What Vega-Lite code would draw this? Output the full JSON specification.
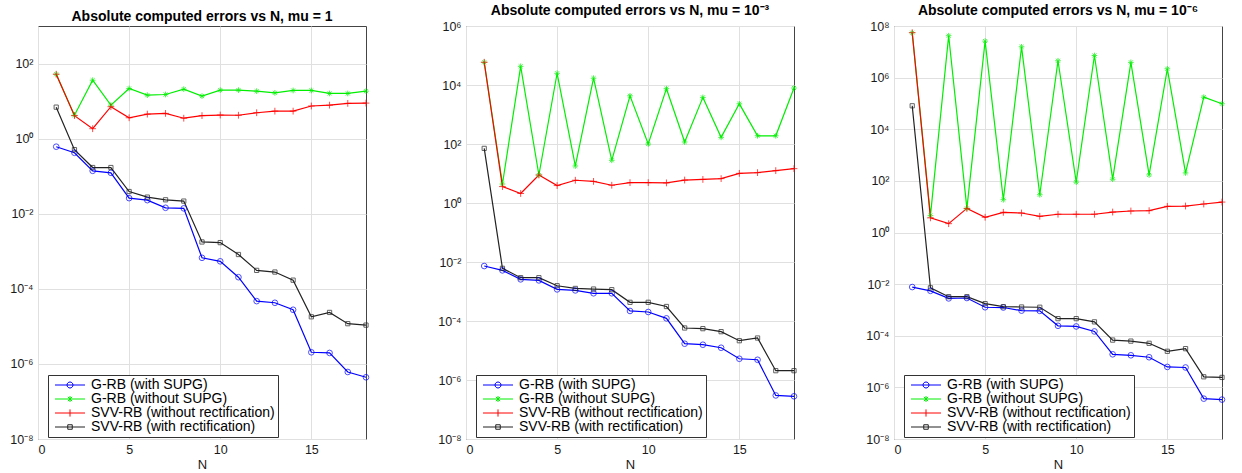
{
  "$schema": "https://vega.github.io/schema/vega-lite/v6.json",
  "padding": {"left": 0, "top": 3, "right": 0, "bottom": 0},
  "background": "white",
  "spacing": 56,
  "config": {
    "font": "Liberation Sans",
    "view": {"stroke": "#444444", "strokeWidth": 1},
    "axis": {
      "labelFont": "Liberation Sans", "labelFontSize": 12.5, "labelColor": "#1a1a1a",
      "titleFont": "Liberation Sans", "titleFontSize": 13, "titleFontWeight": "normal", "titleColor": "#1a1a1a",
      "gridColor": "#e0e0e0", "gridOpacity": 1, "domain": false, "ticks": false, "labelPadding": 4
    },
    "axisY": {"minExtent": 37, "maxExtent": 37, "labelPadding": 5},
    "title": {"font": "Liberation Sans", "fontSize": 14, "fontWeight": "bold", "color": "#000000", "offset": 2},
    "point": {"filled": false, "size": 32, "strokeWidth": 1},
    "legend": {
      "orient": "none", "legendX": 10, "legendY": 349, "strokeColor": "#333333", "fillColor": "white",
      "padding": 3, "labelFont": "Liberation Sans", "labelFontSize": 14, "labelColor": "#000000", "labelLimit": 400,
      "rowPadding": -1.5, "symbolSize": 36, "symbolStrokeWidth": 1, "labelOffset": 26
    }
  },
  "data": {"values": [
    {"p":1,"N":1,"a":0.61,"b":52,"c":52,"d":6.9},
    {"p":1,"N":2,"a":0.42,"b":4.2,"c":4.1,"d":0.51},
    {"p":1,"N":3,"a":0.139,"b":36,"c":1.84,"d":0.17},
    {"p":1,"N":4,"a":0.123,"b":7.8,"c":7.1,"d":0.17},
    {"p":1,"N":5,"a":0.026,"b":21.7,"c":3.6,"d":0.039},
    {"p":1,"N":6,"a":0.023,"b":14.4,"c":4.5,"d":0.0277},
    {"p":1,"N":7,"a":0.0144,"b":15,"c":4.7,"d":0.0235},
    {"p":1,"N":8,"a":0.0139,"b":20.8,"c":3.5,"d":0.0217},
    {"p":1,"N":9,"a":0.00067,"b":13.6,"c":4.1,"d":0.00177},
    {"p":1,"N":10,"a":0.00054,"b":19.6,"c":4.25,"d":0.0017},
    {"p":1,"N":11,"a":0.000204,"b":19.6,"c":4.2,"d":0.00082},
    {"p":1,"N":12,"a":0.000047,"b":18.4,"c":4.9,"d":0.00031},
    {"p":1,"N":13,"a":0.0000425,"b":16.6,"c":5.4,"d":0.00028},
    {"p":1,"N":14,"a":0.0000277,"b":19.2,"c":5.4,"d":0.00017},
    {"p":1,"N":15,"a":0.00000204,"b":19.2,"c":7.4,"d":0.000018},
    {"p":1,"N":16,"a":0.00000196,"b":16,"c":7.8,"d":0.0000235},
    {"p":1,"N":17,"a":0.00000061,"b":16,"c":8.7,"d":0.0000118},
    {"p":1,"N":18,"a":0.00000044,"b":18.4,"c":8.85,"d":0.0000108},
    {"p":2,"N":1,"a":0.0073,"b":59000,"c":59000,"d":71},
    {"p":2,"N":2,"a":0.0052,"b":4.4,"c":3.6,"d":0.0061},
    {"p":2,"N":3,"a":0.00258,"b":43000,"c":2.1,"d":0.00294},
    {"p":2,"N":4,"a":0.00238,"b":8.9,"c":8.9,"d":0.00294},
    {"p":2,"N":5,"a":0.00118,"b":25000,"c":3.9,"d":0.00157},
    {"p":2,"N":6,"a":0.00109,"b":18,"c":5.9,"d":0.00127},
    {"p":2,"N":7,"a":0.00087,"b":17000,"c":5.4,"d":0.00121},
    {"p":2,"N":8,"a":0.00087,"b":28,"c":4.0,"d":0.00115},
    {"p":2,"N":9,"a":0.000219,"b":4300,"c":4.9,"d":0.00043},
    {"p":2,"N":10,"a":0.000202,"b":100,"c":4.9,"d":0.00043},
    {"p":2,"N":11,"a":0.000123,"b":7500,"c":4.8,"d":0.00031},
    {"p":2,"N":12,"a":0.000017,"b":117,"c":6.0,"d":0.000058},
    {"p":2,"N":13,"a":0.0000157,"b":3800,"c":6.3,"d":0.000055},
    {"p":2,"N":14,"a":0.0000124,"b":168,"c":6.7,"d":0.0000435},
    {"p":2,"N":15,"a":0.00000525,"b":2300,"c":10.1,"d":0.0000215},
    {"p":2,"N":16,"a":0.00000485,"b":190,"c":10.7,"d":0.0000265},
    {"p":2,"N":17,"a":0.0000003,"b":190,"c":12.5,"d":0.00000207},
    {"p":2,"N":18,"a":0.00000028,"b":7900,"c":14.6,"d":0.00000207},
    {"p":3,"N":1,"a":0.0077,"b":55000000,"c":55000000,"d":81000},
    {"p":3,"N":2,"a":0.0055,"b":4.5,"c":3.7,"d":0.0072},
    {"p":3,"N":3,"a":0.0028,"b":42000000,"c":2.2,"d":0.00326},
    {"p":3,"N":4,"a":0.0029,"b":8.6,"c":8.6,"d":0.00326},
    {"p":3,"N":5,"a":0.00127,"b":26000000,"c":3.9,"d":0.00175},
    {"p":3,"N":6,"a":0.00124,"b":18.6,"c":6.05,"d":0.00134},
    {"p":3,"N":7,"a":0.00094,"b":15600000,"c":5.7,"d":0.0013},
    {"p":3,"N":8,"a":0.00092,"b":29,"c":4.25,"d":0.00127},
    {"p":3,"N":9,"a":0.000243,"b":4500000,"c":5.1,"d":0.00046},
    {"p":3,"N":10,"a":0.000229,"b":89,"c":5.1,"d":0.00046},
    {"p":3,"N":11,"a":0.000147,"b":7200000,"c":5.1,"d":0.000345},
    {"p":3,"N":12,"a":0.0000191,"b":116,"c":6.2,"d":0.000068},
    {"p":3,"N":13,"a":0.0000175,"b":3900000,"c":6.8,"d":0.000062},
    {"p":3,"N":14,"a":0.0000147,"b":170,"c":7.0,"d":0.000051},
    {"p":3,"N":15,"a":0.0000062,"b":2200000,"c":10.3,"d":0.000025},
    {"p":3,"N":16,"a":0.0000059,"b":203,"c":10.6,"d":0.0000316},
    {"p":3,"N":17,"a":0.000000366,"b":175000,"c":12.7,"d":0.00000257},
    {"p":3,"N":18,"a":0.000000336,"b":97000,"c":15.1,"d":0.00000243}
  ]},
  "hconcat": [
    {
      "width": 328, "height": 413,
      "title": "Absolute computed errors vs N, mu = 1",
      "transform": [{"filter": "datum.p == 1"}, {"fold": ["a", "b", "c", "d"], "as": ["s", "v"]}],
      "encoding": {
        "x": {"field": "N", "type": "quantitative", "scale": {"domain": [0, 18], "nice": false}, "axis": {"values": [0, 5, 10, 15], "title": "N", "titlePadding": 3}},
        "y": {"field": "v", "type": "quantitative", "scale": {"type": "log", "domain": [1e-8, 1e3], "nice": false},
          "axis": {"title": null, "values": [1e-8, 1e-6, 1e-4, 1e-2, 1, 100],
            "labelExpr": "'10' + replace(replace(replace(replace(replace(replace(replace(replace(replace(replace('' + round(log(datum.value)/LN10), '-', '⁻'), '0', '⁰'), '1', '¹'), '2', '²'), '3', '³'), '4', '⁴'), '5', '⁵'), '6', '⁶'), '7', '⁷'), '8', '⁸')"}},
        "color": {"field": "s", "type": "nominal",
          "scale": {"domain": ["a", "b", "c", "d"], "range": ["#0000ff", "#00ee00", "#ff0000", "#222222"]},
          "legend": {"title": null,
            "labelExpr": "datum.value == 'a' ? 'G-RB (with SUPG)' : datum.value == 'b' ? 'G-RB (without SUPG)' : datum.value == 'c' ? 'SVV-RB (without rectification)' : 'SVV-RB (with rectification)'",
            "encode": {"symbols": {"update": {"fill": {"value": "transparent"}, "strokeWidth": {"value": 1},
              "shape": {"signal": "datum.value == 'a' ? 'M-1,0L9,0M3,0A1,1,0,1,0,5,0A1,1,0,1,0,3,0' : datum.value == 'b' ? 'M-1,0L9,0M4,-1L4,1M3.3,-0.7L4.7,0.7M3.3,0.7L4.7,-0.7' : datum.value == 'c' ? 'M-1,0L9,0M4,-1.2L4,1.2' : 'M-1,0L9,0M3.25,-0.75L4.75,-0.75L4.75,0.75L3.25,0.75Z'"}}}}}}
      },
      "layer": [
        {"mark": {"type": "line", "strokeWidth": 1.2}},
        {"transform": [{"filter": "datum.s == 'a'"}], "mark": {"type": "point", "shape": "circle"}},
        {"transform": [{"filter": "datum.s == 'b'"}], "mark": {"type": "point", "shape": "M-1,0L1,0M0,-1L0,1M-0.7,-0.7L0.7,0.7M-0.7,0.7L0.7,-0.7"}},
        {"transform": [{"filter": "datum.s == 'c'"}], "mark": {"type": "point", "shape": "M-1.2,0L1.2,0M0,-1.2L0,1.2"}},
        {"transform": [{"filter": "datum.s == 'd'"}], "mark": {"type": "point", "shape": "M-0.75,-0.75L0.75,-0.75L0.75,0.75L-0.75,0.75Z"}}
      ]
    },
    {
      "width": 328, "height": 413,
      "title": "Absolute computed errors vs N,  mu = 10⁻³",
      "transform": [{"filter": "datum.p == 2"}, {"fold": ["a", "b", "c", "d"], "as": ["s", "v"]}],
      "encoding": {
        "x": {"field": "N", "type": "quantitative", "scale": {"domain": [0, 18], "nice": false}, "axis": {"values": [0, 5, 10, 15], "title": "N", "titlePadding": 3}},
        "y": {"field": "v", "type": "quantitative", "scale": {"type": "log", "domain": [1e-8, 1e6], "nice": false},
          "axis": {"title": null, "values": [1e-8, 1e-6, 1e-4, 1e-2, 1, 100, 1e4, 1e6],
            "labelExpr": "'10' + replace(replace(replace(replace(replace(replace(replace(replace(replace(replace('' + round(log(datum.value)/LN10), '-', '⁻'), '0', '⁰'), '1', '¹'), '2', '²'), '3', '³'), '4', '⁴'), '5', '⁵'), '6', '⁶'), '7', '⁷'), '8', '⁸')"}},
        "color": {"field": "s", "type": "nominal",
          "scale": {"domain": ["a", "b", "c", "d"], "range": ["#0000ff", "#00ee00", "#ff0000", "#222222"]},
          "legend": {"title": null,
            "labelExpr": "datum.value == 'a' ? 'G-RB (with SUPG)' : datum.value == 'b' ? 'G-RB (without SUPG)' : datum.value == 'c' ? 'SVV-RB (without rectification)' : 'SVV-RB (with rectification)'",
            "encode": {"symbols": {"update": {"fill": {"value": "transparent"}, "strokeWidth": {"value": 1},
              "shape": {"signal": "datum.value == 'a' ? 'M-1,0L9,0M3,0A1,1,0,1,0,5,0A1,1,0,1,0,3,0' : datum.value == 'b' ? 'M-1,0L9,0M4,-1L4,1M3.3,-0.7L4.7,0.7M3.3,0.7L4.7,-0.7' : datum.value == 'c' ? 'M-1,0L9,0M4,-1.2L4,1.2' : 'M-1,0L9,0M3.25,-0.75L4.75,-0.75L4.75,0.75L3.25,0.75Z'"}}}}}}
      },
      "layer": [
        {"mark": {"type": "line", "strokeWidth": 1.2}},
        {"transform": [{"filter": "datum.s == 'a'"}], "mark": {"type": "point", "shape": "circle"}},
        {"transform": [{"filter": "datum.s == 'b'"}], "mark": {"type": "point", "shape": "M-1,0L1,0M0,-1L0,1M-0.7,-0.7L0.7,0.7M-0.7,0.7L0.7,-0.7"}},
        {"transform": [{"filter": "datum.s == 'c'"}], "mark": {"type": "point", "shape": "M-1.2,0L1.2,0M0,-1.2L0,1.2"}},
        {"transform": [{"filter": "datum.s == 'd'"}], "mark": {"type": "point", "shape": "M-0.75,-0.75L0.75,-0.75L0.75,0.75L-0.75,0.75Z"}}
      ]
    },
    {
      "width": 328, "height": 413,
      "title": "Absolute computed errors vs N, mu  = 10⁻⁶",
      "transform": [{"filter": "datum.p == 3"}, {"fold": ["a", "b", "c", "d"], "as": ["s", "v"]}],
      "encoding": {
        "x": {"field": "N", "type": "quantitative", "scale": {"domain": [0, 18], "nice": false}, "axis": {"values": [0, 5, 10, 15], "title": "N", "titlePadding": 3}},
        "y": {"field": "v", "type": "quantitative", "scale": {"type": "log", "domain": [1e-8, 1e8], "nice": false},
          "axis": {"title": null, "values": [1e-8, 1e-6, 1e-4, 1e-2, 1, 100, 1e4, 1e6, 1e8],
            "labelExpr": "'10' + replace(replace(replace(replace(replace(replace(replace(replace(replace(replace('' + round(log(datum.value)/LN10), '-', '⁻'), '0', '⁰'), '1', '¹'), '2', '²'), '3', '³'), '4', '⁴'), '5', '⁵'), '6', '⁶'), '7', '⁷'), '8', '⁸')"}},
        "color": {"field": "s", "type": "nominal",
          "scale": {"domain": ["a", "b", "c", "d"], "range": ["#0000ff", "#00ee00", "#ff0000", "#222222"]},
          "legend": {"title": null,
            "labelExpr": "datum.value == 'a' ? 'G-RB (with SUPG)' : datum.value == 'b' ? 'G-RB (without SUPG)' : datum.value == 'c' ? 'SVV-RB (without rectification)' : 'SVV-RB (with rectification)'",
            "encode": {"symbols": {"update": {"fill": {"value": "transparent"}, "strokeWidth": {"value": 1},
              "shape": {"signal": "datum.value == 'a' ? 'M-1,0L9,0M3,0A1,1,0,1,0,5,0A1,1,0,1,0,3,0' : datum.value == 'b' ? 'M-1,0L9,0M4,-1L4,1M3.3,-0.7L4.7,0.7M3.3,0.7L4.7,-0.7' : datum.value == 'c' ? 'M-1,0L9,0M4,-1.2L4,1.2' : 'M-1,0L9,0M3.25,-0.75L4.75,-0.75L4.75,0.75L3.25,0.75Z'"}}}}}}
      },
      "layer": [
        {"mark": {"type": "line", "strokeWidth": 1.2}},
        {"transform": [{"filter": "datum.s == 'a'"}], "mark": {"type": "point", "shape": "circle"}},
        {"transform": [{"filter": "datum.s == 'b'"}], "mark": {"type": "point", "shape": "M-1,0L1,0M0,-1L0,1M-0.7,-0.7L0.7,0.7M-0.7,0.7L0.7,-0.7"}},
        {"transform": [{"filter": "datum.s == 'c'"}], "mark": {"type": "point", "shape": "M-1.2,0L1.2,0M0,-1.2L0,1.2"}},
        {"transform": [{"filter": "datum.s == 'd'"}], "mark": {"type": "point", "shape": "M-0.75,-0.75L0.75,-0.75L0.75,0.75L-0.75,0.75Z"}}
      ]
    }
  ],
  "resolve": {"scale": {"color": "independent"}, "legend": {"color": "independent"}}
}
